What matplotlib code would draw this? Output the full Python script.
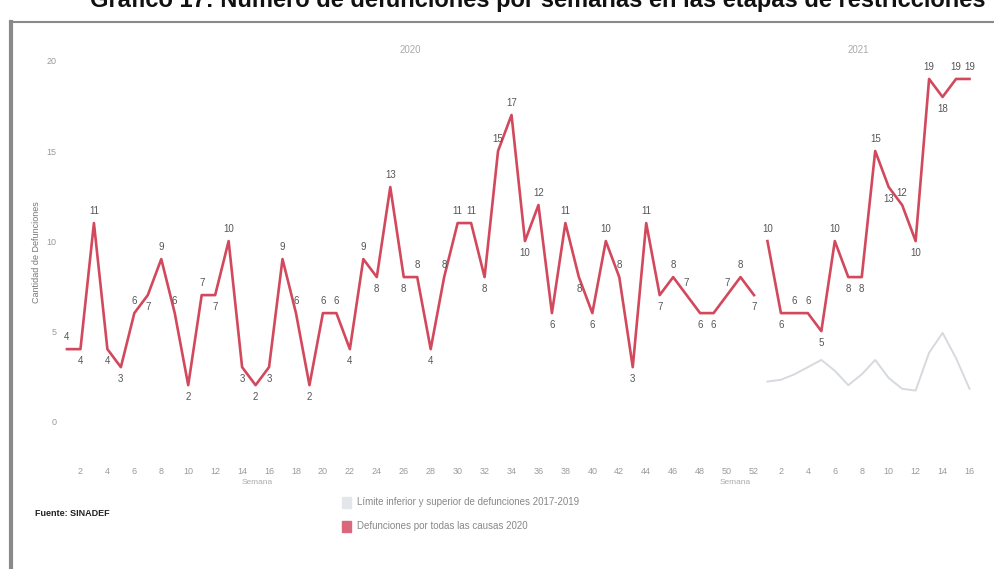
import numpy as np
import matplotlib
matplotlib.use('Agg')
import matplotlib.pyplot as plt

# datos
semanas_2020 = list(range(1, 53))
def_2020 = [4, 4, 11, 4, 3, 6, 7, 9, 6, 2, 7, 7, 10, 3, 2, 3, 9, 6, 2, 6,
            6, 4, 9, 8, 13, 8, 8, 4, 8, 11, 11, 8, 15, 17, 10, 12, 6, 11, 8, 6,
            10, 8, 3, 11, 7, 8, 7, 6, 6, 7, 8, 7]
semanas_2021 = list(range(1, 17))
def_2021 = [10, 6, 6, 6, 5, 10, 8, 8, 15, 13, 12, 10, 19, 18, 19, 19]
limite_2021 = [2.2, 2.3, 2.6, 3.0, 3.4, 2.8, 2.0, 2.6, 3.4, 2.4, 1.8, 1.7, 3.8, 4.9, 3.5, 1.8]

yticks = [0, 5, 10, 15, 20]

titulo = 'Gráfico 17: Número de defunciones por semanas en las etapas de restricciones'
rojo = '#d2485c'
gris = '#9a9a9a'

plt.rcParams['font.family'] = ['Liberation Sans', 'DejaVu Sans']

fig = plt.figure(figsize=(9.95, 5.69), dpi=100)
W, H = 995, 569

# ejes en pixeles: x 62-985, y 55-450
ax = fig.add_axes([62 / W, 1 - 450 / H, 923 / W, 395 / H])

# posiciones continuas: 2020 semana 1 -> 0, 2021 semana 1 -> 52
x20 = np.array(semanas_2020) - 1
x21 = np.array(semanas_2021) - 1 + len(semanas_2020)

ax.plot(x21, limite_2021, color='#d6d9dd', lw=1.4, zorder=1)
ax.plot(x20, def_2020, color=rojo, lw=1.9, zorder=3)
ax.plot(x21, def_2021, color=rojo, lw=1.9, zorder=3)

def etiquetas(xs, vals):
    for i, (x, v) in enumerate(zip(xs, vals)):
        prev = vals[i - 1] if i > 0 else v
        nxt = vals[i + 1] if i < len(vals) - 1 else v
        if v >= (prev + nxt) / 2:
            ax.annotate(str(v), (x, v), xytext=(0, 5), textcoords='offset points',
                        ha='center', va='bottom', fontsize=7, color='#555555')
        else:
            ax.annotate(str(v), (x, v), xytext=(0, -5), textcoords='offset points',
                        ha='center', va='top', fontsize=7, color='#555555')

etiquetas(x20, def_2020)
etiquetas(x21, def_2021)

ax.set_xlim(-0.37, 68.15)
ax.set_ylim(-1.6, 20.33)

ticks_x = list(x20[1::2]) + list(x21[1::2])
labels_x = [str(s) for s in semanas_2020[1::2]] + [str(s) for s in semanas_2021[1::2]]
ax.set_xticks(ticks_x)
ax.set_xticklabels(labels_x, fontsize=6.5, color=gris)
ax.set_yticks(yticks)
ax.set_yticklabels([str(t) for t in yticks], fontsize=6.5, color=gris)
ax.tick_params(length=0, axis='x', pad=12)
ax.tick_params(length=0, axis='y', pad=4)
for s in ax.spines.values():
    s.set_visible(False)
ax.set_ylabel('Cantidad de Defunciones', fontsize=6.5, color='#777777', labelpad=4)

# encabezados de año y etiquetas de semana
fig.text(410 / W, 1 - 50 / H, '2020', fontsize=7, color='#aaaaaa', ha='center', va='center')
fig.text(858 / W, 1 - 50 / H, '2021', fontsize=7, color='#aaaaaa', ha='center', va='center')
fig.text(257 / W, 1 - 482 / H, 'Semana', fontsize=6, color='#aaaaaa', ha='center', va='center')
fig.text(735 / W, 1 - 482 / H, 'Semana', fontsize=6, color='#aaaaaa', ha='center', va='center')

# leyenda
fig.patches.append(plt.Rectangle((342 / W, 1 - 508 / H), 9 / W, 11 / H,
                                 transform=fig.transFigure, color='#e3e6ea'))
fig.patches.append(plt.Rectangle((342 / W, 1 - 532 / H), 9 / W, 11 / H,
                                 transform=fig.transFigure, color='#d9687c'))
fig.text(357 / W, 1 - 502 / H, 'Límite inferior y superior de defunciones 2017-2019',
         fontsize=7, color='#888888', va='center')
fig.text(357 / W, 1 - 526 / H, 'Defunciones por todas las causas 2020',
         fontsize=7, color='#888888', va='center')

fig.text(35 / W, 1 - 513 / H, 'Fuente: SINADEF', fontsize=6.5, fontweight='bold',
         color='#222222', va='center')

# titulo cortado arriba, como en el original
fig.text(538 / W, 1 - 1 / H, titulo, fontsize=17, fontweight='bold', color='#111111',
         ha='center', va='center')

# marco
fig.add_artist(plt.Line2D([11 / W, 11 / W], [0, 1 - 22 / H], transform=fig.transFigure,
                          color='#8a8a8a', lw=3))
fig.add_artist(plt.Line2D([11 / W, 1], [1 - 22 / H, 1 - 22 / H], transform=fig.transFigure,
                          color='#8a8a8a', lw=1.5))

fig.savefig('out.png', dpi=100)
